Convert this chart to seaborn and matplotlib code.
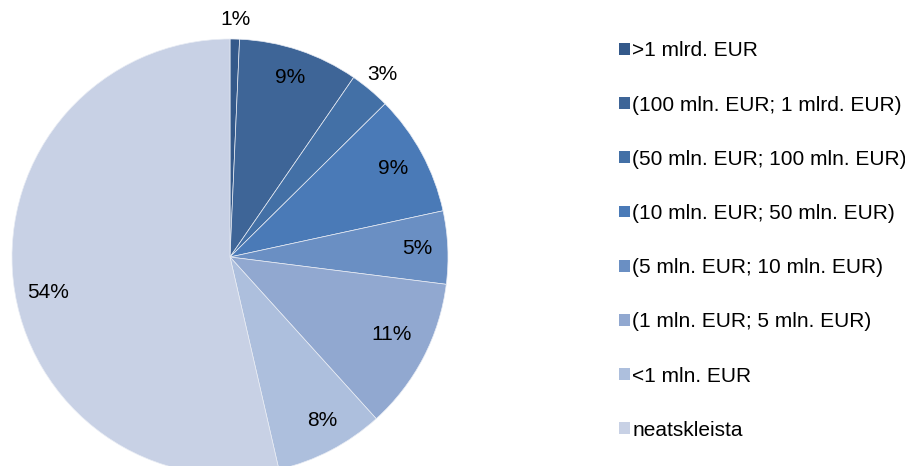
import numpy as np
import seaborn as sns
import matplotlib.pyplot as plt
from matplotlib.patches import Patch

sns.set_theme(style='white')
plt.rcParams['font.family'] = ['Liberation Sans', 'DejaVu Sans']
plt.rcParams['text.color'] = 'black'

# Share of entities by size class (percent)
categories = ['>1 mlrd. EUR', '(100 mln. EUR; 1 mlrd. EUR)', '(50 mln. EUR; 100 mln. EUR)',
              '(10 mln. EUR; 50 mln. EUR)', '(5 mln. EUR; 10 mln. EUR)',
              '(1 mln. EUR; 5 mln. EUR)', '<1 mln. EUR', 'neatskleista']
shares = [0.7, 8.9, 3.0, 9.0, 5.4, 11.3, 8.1, 53.6]
colors = ['#34598a', '#3e6597', '#4370a6', '#4a7ab7', '#6a8fc3', '#91a8d0', '#adbfdd', '#c8d1e5']
# small slices get their label outside the pie; small nudges mimic the original placement
label_radius = [1.09, 0.87, 1.09, 0.85, 0.86, 0.82, 0.86, 0.85]
label_shift = [0, 0, 0, 0, 0, 2, 2.0, 4.5]

fig = plt.figure(figsize=(9.05, 4.66), dpi=100)
ax = fig.add_axes([12 / 905, -9 / 466, 436 / 905, 436 / 466])

wedges, texts, autotexts = ax.pie(shares, colors=colors, startangle=90, counterclock=False,
                                  autopct='%.0f%%', pctdistance=0.85,
                                  wedgeprops=dict(edgecolor='#e8ecf4', linewidth=0.5),
                                  textprops=dict(fontsize=15, color='black'))

for w, t, r, s in zip(wedges, autotexts, label_radius, label_shift):
    ang = np.deg2rad((w.theta1 + w.theta2) / 2 + s)
    t.set_position((r * np.cos(ang), r * np.sin(ang)))

ax.set_aspect('equal')
ax.set_xlim(-1, 1)
ax.set_ylim(-1, 1)

handles = [Patch(facecolor=c, edgecolor='none') for c in colors]
fig.legend(handles, categories, loc='upper left', bbox_to_anchor=(611 / 905, 1 - 33 / 466),
           frameon=False, fontsize=15, handlelength=0.5, handleheight=0.5,
           handletextpad=0.12, labelspacing=1.69, borderaxespad=0, labelcolor='black')

plt.savefig('out.png', dpi=100)
